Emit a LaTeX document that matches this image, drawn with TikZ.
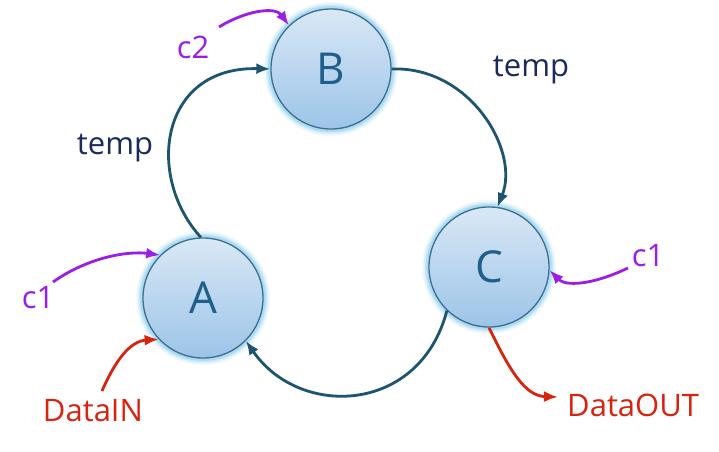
\documentclass[tikz,border=0pt]{standalone}
\usepackage{fontspec}
\setmainfont{Open Sans}
\usetikzlibrary{arrows.meta}
\definecolor{edgeblue}{HTML}{1D5470}
\definecolor{ringblue}{HTML}{3D6E8E}
\definecolor{lettblue}{HTML}{1F5F8B}
\definecolor{topfill}{HTML}{D9E8F6}
\definecolor{botfill}{HTML}{9CC4E8}
\definecolor{glow}{HTML}{7EC8EE}
\definecolor{ctrlpurple}{HTML}{9B1DE8}
\definecolor{datared}{HTML}{D8240F}
\definecolor{tempnavy}{HTML}{1A2A5A}
\tikzset{
  state/.style={circle, minimum size=120pt, inner sep=0pt, draw=ringblue, line width=1.3pt,
    top color=topfill, bottom color=botfill, text=lettblue, font=\fontsize{44}{46}\selectfont},
  flow/.style={draw=edgeblue, line width=2.8pt, -{Latex[length=14pt,width=11pt]}},
  ctrl/.style={draw=ctrlpurple, line width=2.8pt, -{Latex[length=14pt,width=11pt]}},
  data/.style={draw=datared, line width=2.8pt, -{Latex[length=14pt,width=11pt]}},
  lbl/.style={font=\fontsize{31}{33}\selectfont, inner sep=0pt},
}
\newcommand{\glowring}[1]{%
  \foreach \w/\o in {12/0.10, 9/0.15, 6/0.25, 3.5/0.35}{
    \draw[glow, line width=\w pt, opacity=\o] (#1) circle (61pt);
  }}
\begin{document}
\begin{tikzpicture}[x=1pt,y=1pt]
\useasboundingbox (0,0) rectangle (719,451);
\fill[white] (0,0) rectangle (719,451);
% glow
\glowring{203,153}
\glowring{331,382}
\glowring{489,184}
% states
\node[state] (A) at (203,153) {A};
\node[state] (B) at (331,382) {B};
\node[state] (C) at (489,184) {C};
% labels
\node[lbl, text=tempnavy] (t1) at (115,303) {temp};
\node[lbl, text=tempnavy] (t2) at (531,381) {temp};
\node[lbl, text=ctrlpurple] (lc2) at (193,404) {c2};
\node[lbl, text=ctrlpurple] (lc1a) at (38,153) {c1};
\node[lbl, text=ctrlpurple] (lc1c) at (648,195) {c1};
\node[lbl, text=datared] (lin) at (93,40) {DataIN};
\node[lbl, text=datared, anchor=west] (lout) at (567,46) {DataOUT};
% free-end coordinates
\coordinate (s2) at (219,424);
\coordinate (s1a) at (53,169);
\coordinate (s1c) at (628,183);
\coordinate (sin) at (102,60);
\coordinate (eout) at (558,54);
% main flow
\draw[flow] (A.92) .. controls (145,275) and (160,385) .. (B.west);
\draw[flow] (B.east) .. controls (470,385) and (520,300) .. (C.82);
\draw[flow] (C.226) .. controls (420,37) and (300,32) .. (A.-45);
% control inputs
\draw[ctrl] (s2) .. controls (245,440) and (275,445) .. (B.134);
\draw[ctrl] (s1a) .. controls (90,195) and (130,200) .. (A.135);
\draw[ctrl] (s1c) .. controls (590,165) and (565,165) .. (C.-3);
% data
\draw[data] (sin) .. controls (115,90) and (130,110) .. (A.223);
\draw[data] (C.270) .. controls (510,80) and (525,55) .. (eout);
\end{tikzpicture}
\end{document}
